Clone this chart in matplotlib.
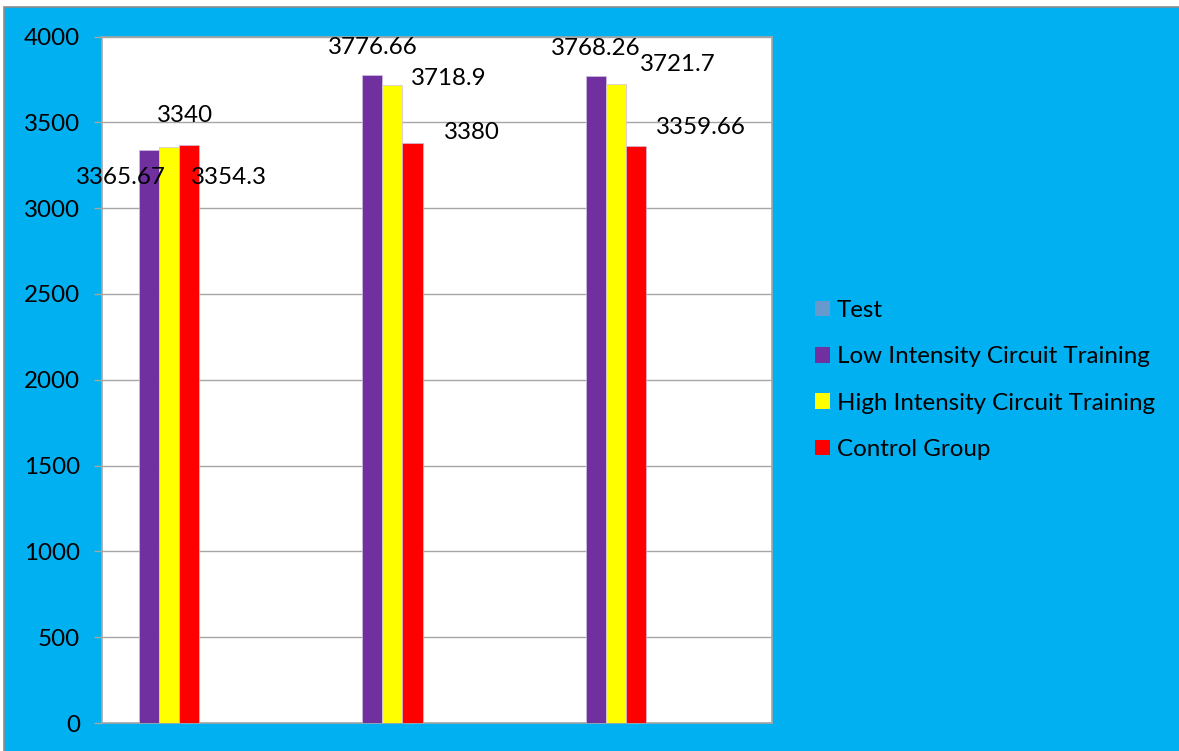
import numpy as np
import matplotlib.pyplot as plt
from matplotlib.patches import Rectangle, Patch

plt.rcParams['font.family'] = ['Lato', 'DejaVu Sans']

# Three test occasions, four series (Test series holds no values)
categories = ["", "", ""]
series_names = ["Test", "Low Intensity Circuit Training",
                "High Intensity Circuit Training", "Control Group"]
low_intensity = [3340, 3776.66, 3768.26]
high_intensity = [3354.3, 3718.9, 3721.7]
control_group = [3365.67, 3380, 3359.66]
yticks = [0, 500, 1000, 1500, 2000, 2500, 3000, 3500, 4000]

colors = ["#6699CC", "#7030A0", "#FFFF00", "#FF0000"]

# label offsets (pixels) from each bar top, per series, per group
low_off = [(36, 34), (0, 27), (0, 28)]
high_off = [(60, -30), (56, 6), (62, 20)]
ctrl_off = [(-68, -32), (59, 10), (65, 19)]

FS = 17.4

fig = plt.figure(figsize=(11.79, 7.51), dpi=100, facecolor="white")
fig.patches.append(Rectangle((4 / 1179, -0.01), 1.0, 744 / 751 + 0.01,
                             transform=fig.transFigure, facecolor="#00B0F0",
                             edgecolor="#8C8C8C", linewidth=1.2, zorder=-10))

ax = fig.add_axes([102 / 1179, 1 - 723 / 751, 670 / 1179, 686.5 / 751])
ax.set_zorder(2)
ax.set_facecolor("white")

x = np.arange(len(categories))
w = 0.0897
start = 0.166  # left edge of the first filled bar inside each category
series = [low_intensity, high_intensity, control_group]
offsets = [low_off, high_off, ctrl_off]
for k, (vals, offs) in enumerate(zip(series, offsets)):
    pos = x + start + k * w + w / 2
    ax.bar(pos, vals, width=w, color=colors[k + 1], edgecolor="#D0C0E0",
           linewidth=0.5, zorder=3)
    for px, v, (dx, dy) in zip(pos, vals, offs):
        ax.annotate(f"{v:g}", (px, v), xytext=(dx, dy),
                    textcoords="offset pixels", ha="center", va="center",
                    fontsize=FS, color="black", zorder=5,
                    annotation_clip=False)

ax.set_xlim(0, 3)
ax.set_ylim(0, 4000)
ax.set_yticks(yticks)
ax.set_xticks([])
ax.yaxis.grid(True, color="#A6A6A6", linewidth=1.0, zorder=0)
ax.set_axisbelow(True)
ax.tick_params(axis="y", colors="#A6A6A6", labelcolor="black", length=6,
               width=1.0, labelsize=FS, pad=10)
for s in ax.spines.values():
    s.set_color("#A6A6A6")
    s.set_linewidth(1.2)

handles = [Patch(facecolor=c, edgecolor="none") for c in colors]
fig.legend(handles, series_names, loc="center left",
           bbox_to_anchor=(793 / 1179, 1 - 380 / 751), frameon=False,
           fontsize=FS, handlelength=0.62, handleheight=0.62,
           handletextpad=0.3, labelspacing=1.05)

fig.savefig("out.png", dpi=100, facecolor=fig.get_facecolor())
